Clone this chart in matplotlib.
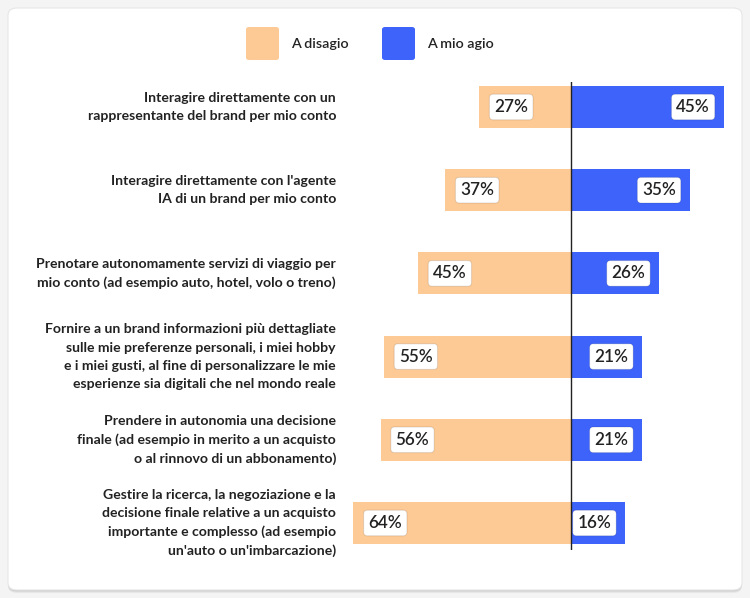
import matplotlib
matplotlib.use("Agg")
import matplotlib.pyplot as plt
from matplotlib.patches import FancyBboxPatch

categories = [
    "Interagire direttamente con un\nrappresentante del brand per mio conto",
    "Interagire direttamente con l'agente\nIA di un brand per mio conto",
    "Prenotare autonomamente servizi di viaggio per\nmio conto (ad esempio auto, hotel, volo o treno)",
    "Fornire a un brand informazioni più dettagliate\nsulle mie preferenze personali, i miei hobby\ne i miei gusti, al fine di personalizzare le mie\nesperienze sia digitali che nel mondo reale",
    "Prendere in autonomia una decisione\nfinale (ad esempio in merito a un acquisto\no al rinnovo di un abbonamento)",
    "Gestire la ricerca, la negoziazione e la\ndecisione finale relative a un acquisto\nimportante e complesso (ad esempio\nun'auto o un'imbarcazione)",
]
disagio = [27, 37, 45, 55, 56, 64]
agio = [45, 35, 26, 21, 21, 16]
series_names = ["A disagio", "A mio agio"]

ORANGE = "#FDC994"
BLUE = "#3D63FA"
TEXT = "#222222"
FONT = "Lato"

W, H = 750, 598
fig = plt.figure(figsize=(W / 100, H / 100), dpi=100)
fig.patch.set_facecolor("#f4f4f4")

# card with shadow
for off, alpha in [(3, 0.05), (2, 0.06), (1, 0.08)]:
    fig.patches.append(FancyBboxPatch((8 / W, (8 - off) / H), 734 / W, (582) / H,
                                      boxstyle="round,pad=0,rounding_size=0.012",
                                      transform=fig.transFigure, facecolor="black",
                                      edgecolor="none", alpha=alpha, zorder=0))
fig.patches.append(FancyBboxPatch((8 / W, 8 / H), 734 / W, 582 / H,
                                  boxstyle="round,pad=0,rounding_size=0.012",
                                  transform=fig.transFigure, facecolor="white",
                                  edgecolor="#e6e6e6", lw=0.8, zorder=0.5))

# axes: x pixels 341..740, y pixels 82..550 (from top)
ax_l, ax_r, ax_t, ax_b = 341, 740, 82, 550
ax = fig.add_axes([ax_l / W, 1 - ax_b / H, (ax_r - ax_l) / W, (ax_b - ax_t) / H])
ax.set_zorder(3)
ax.set_facecolor("none")
pxper = 3.4
center = 571
ax.set_xlim(-(center - ax_l) / pxper, (ax_r - center) / pxper)
rowstep = 83.2
row0 = 107
ax.set_ylim((ax_b - row0) / rowstep, -(row0 - ax_t) / rowstep)
for s in ax.spines.values():
    s.set_visible(False)
ax.set_xticks([])
ax.set_yticks([])

ypos = list(range(len(categories)))
bh = 42 / rowstep
ax.barh(ypos, [-v for v in disagio], height=bh, color=ORANGE, zorder=2)
ax.barh(ypos, agio, height=bh, color=BLUE, zorder=2)
ax.axvline(0, color="#222222", lw=1, zorder=3)

box = dict(boxstyle="round,pad=0.28,rounding_size=0.22", facecolor="white",
           edgecolor=(0, 0, 0, 0.10), lw=0.8)
for y, d, a in zip(ypos, disagio, agio):
    ax.annotate(f"{d}%", xy=(-d, y), xytext=(15, 0), textcoords="offset pixels",
                ha="left", va="center", fontsize=12.3, color=TEXT, family=FONT,
                fontweight="semibold", bbox=box, zorder=4)
    ax.annotate(f"{a}%", xy=(a, y), xytext=(-14, 0), textcoords="offset pixels",
                ha="right", va="center", fontsize=12.3, color=TEXT, family=FONT,
                fontweight="semibold", bbox=box, zorder=4)
    ax.annotate(categories[y], xy=(ax.get_xlim()[0], y), xytext=(-5, 0),
                textcoords="offset pixels", ha="right", va="center", fontsize=10.1,
                color=TEXT, family=FONT, fontweight="bold", linespacing=1.62,
                annotation_clip=False)

# legend
for x0, col, name in [(246, ORANGE, series_names[0]), (382, BLUE, series_names[1])]:
    fig.patches.append(FancyBboxPatch((x0 / W, 1 - 60 / H), 33 / W, 33 / H,
                                      boxstyle="round,pad=0,rounding_size=0.004",
                                      transform=fig.transFigure, facecolor=col,
                                      edgecolor="none", zorder=2))
    fig.text((x0 + 45) / W, 1 - 44 / H, name, ha="left", va="center", fontsize=10.3,
             color=TEXT, family=FONT, fontweight="semibold", zorder=3)

fig.savefig("out.png", dpi=100, facecolor=fig.get_facecolor())
